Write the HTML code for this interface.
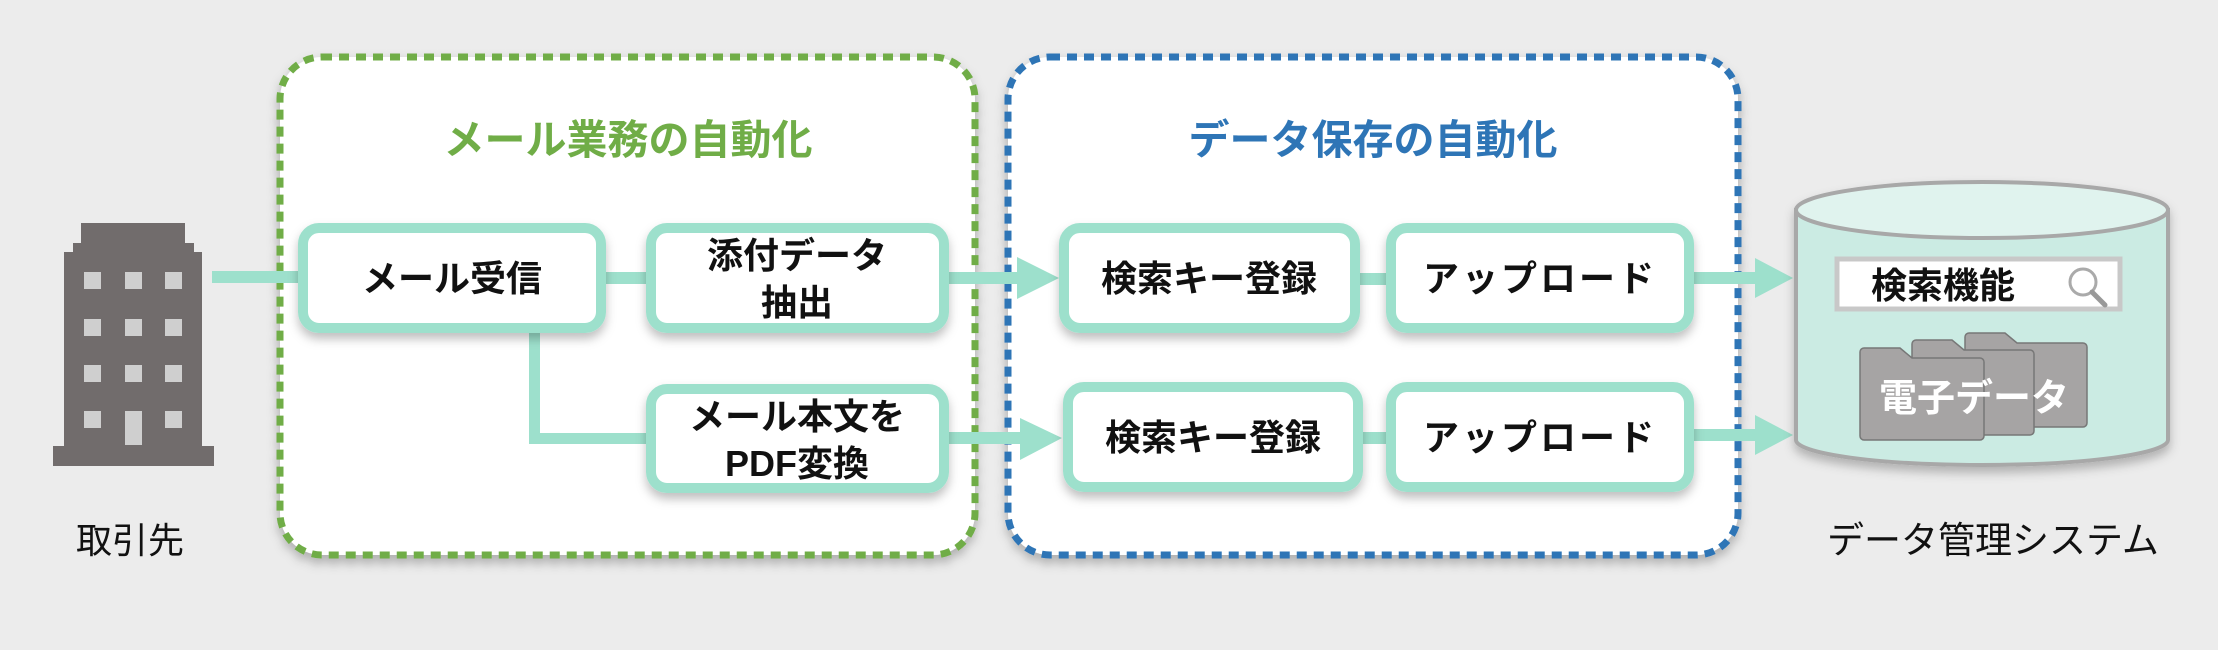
<!DOCTYPE html>
<html><head><meta charset="utf-8"><style>
html,body{margin:0;padding:0;background:#ececec;}
svg{display:block;}
text{font-family:"Liberation Sans","Noto Sans CJK JP",sans-serif;}
</style></head><body>
<svg width="2218" height="650" viewBox="0 0 2218 650" xmlns="http://www.w3.org/2000/svg">
<defs>
<filter id="sh" x="-10%" y="-10%" width="120%" height="130%">
<feDropShadow dx="0" dy="6" stdDeviation="5" flood-color="#000" flood-opacity="0.25"/>
</filter>
</defs>
<rect width="2218" height="650" fill="#ececec"/>

<!-- group boxes -->
<rect x="280" y="57" width="695" height="498" rx="42" fill="#fff" stroke="#70ad47" stroke-width="7" stroke-dasharray="10 7" filter="url(#sh)"/>
<rect x="1008" y="57" width="730" height="498" rx="42" fill="#fff" stroke="#2e75b6" stroke-width="7" stroke-dasharray="10 7" filter="url(#sh)"/>
<text x="628" y="154" text-anchor="middle" font-size="41" font-weight="bold" fill="#70ad47">メール業務の自動化</text>
<text x="1373" y="154" text-anchor="middle" font-size="41" font-weight="bold" fill="#2e75b6">データ保存の自動化</text>

<!-- building -->
<g fill="#716c6c">
<rect x="81" y="223" width="104" height="22"/>
<rect x="73" y="243" width="121" height="12"/>
<rect x="64" y="252" width="138" height="200"/>
<rect x="53" y="446" width="161" height="20"/>
</g>
<g fill="#cfcfcf">
<rect x="84" y="272" width="17" height="17"/><rect x="125" y="272" width="17" height="17"/><rect x="165" y="272" width="17" height="17"/>
<rect x="84" y="319" width="17" height="17"/><rect x="125" y="319" width="17" height="17"/><rect x="165" y="319" width="17" height="17"/>
<rect x="84" y="365" width="17" height="17"/><rect x="125" y="365" width="17" height="17"/><rect x="165" y="365" width="17" height="17"/>
<rect x="84" y="411" width="17" height="17"/><rect x="125" y="411" width="17" height="34"/><rect x="165" y="411" width="17" height="17"/>
</g>
<text x="130" y="553" text-anchor="middle" font-size="36" fill="#111">取引先</text>

<!-- connectors -->
<g fill="#9de0cc">
<rect x="212" y="271" width="90" height="12"/>
<rect x="606" y="272" width="42" height="12"/>
<rect x="529" y="333" width="11" height="111"/>
<rect x="529" y="433" width="120" height="11"/>
<rect x="949" y="272" width="70" height="12"/>
<polygon points="1017,257 1059,278 1017,299"/>
<rect x="949" y="432" width="72" height="12"/>
<polygon points="1020,418 1062,438 1020,460"/>
<rect x="1360" y="273" width="28" height="12"/>
<rect x="1360" y="432" width="28" height="12"/>
<rect x="1694" y="272" width="63" height="12"/>
<polygon points="1755,258 1793,278 1755,298"/>
<rect x="1694" y="429" width="63" height="12"/>
<polygon points="1755,415 1793,435 1755,455"/>
</g>

<!-- process boxes -->
<g fill="#fff" stroke="#9de0cc" stroke-width="10" filter="url(#sh)">
<rect x="303" y="228" width="298" height="100" rx="16"/>
<rect x="651" y="228" width="293" height="100" rx="16"/>
<rect x="651" y="389" width="293" height="99" rx="16"/>
<rect x="1064" y="228" width="291" height="100" rx="16"/>
<rect x="1068" y="387" width="290" height="100" rx="16"/>
<rect x="1391" y="228" width="298" height="100" rx="16"/>
<rect x="1391" y="387" width="298" height="100" rx="16"/>
</g>
<g font-size="36" font-weight="bold" fill="#111" text-anchor="middle">
<text x="452" y="291">メール受信</text>
<text x="797" y="268">添付データ</text>
<text x="797" y="315">抽出</text>
<text x="797" y="429">メール本文を</text>
<text x="797" y="476">PDF変換</text>
<text x="1209" y="291">検索キー登録</text>
<text x="1213" y="450">検索キー登録</text>
<text x="1540" y="291" letter-spacing="3">アップロード</text>
<text x="1540" y="450" letter-spacing="3">アップロード</text>
</g>

<!-- cylinder -->
<g filter="url(#sh)">
<path d="M1796,210 L1796,440 A186,25 0 0 0 2168,440 L2168,210 Z" fill="#cbebe3" stroke="#a8a8a8" stroke-width="4"/>
<ellipse cx="1982" cy="210" rx="186" ry="28" fill="#e0f3ee" stroke="#a8a8a8" stroke-width="4"/>
</g>
<rect x="1837" y="259" width="283" height="50" fill="#fff" stroke="#c8c8c8" stroke-width="5"/>
<text x="1871" y="298" font-size="36" font-weight="bold" fill="#111">検索機能</text>
<circle cx="2083" cy="282" r="13" fill="none" stroke="#aaa" stroke-width="3"/>
<line x1="2092" y1="292" x2="2105" y2="305" stroke="#999" stroke-width="5" stroke-linecap="round"/>

<!-- folders -->
<g fill="#a6a4a4" stroke="#777" stroke-width="1.5">
<path d="M1969,333 h36 l12,10 h66 a4,4 0 0 1 4,4 v76 a4,4 0 0 1 -4,4 h-114 a4,4 0 0 1 -4,-4 v-86 a4,4 0 0 1 4,-4 z"/>
<path d="M1916,340 h36 l12,10 h66 a4,4 0 0 1 4,4 v77 a4,4 0 0 1 -4,4 h-114 a4,4 0 0 1 -4,-4 v-87 a4,4 0 0 1 4,-4 z"/>
<path d="M1864,348 h36 l12,10 h68 a4,4 0 0 1 4,4 v74 a4,4 0 0 1 -4,4 h-116 a4,4 0 0 1 -4,-4 v-84 a4,4 0 0 1 4,-4 z"/>
</g>
<text x="1974" y="411" text-anchor="middle" font-size="38" font-weight="bold" fill="#fff">電子データ</text>

<text x="1993" y="553" text-anchor="middle" font-size="37" fill="#111">データ管理システム</text>
</svg>
</body></html>
